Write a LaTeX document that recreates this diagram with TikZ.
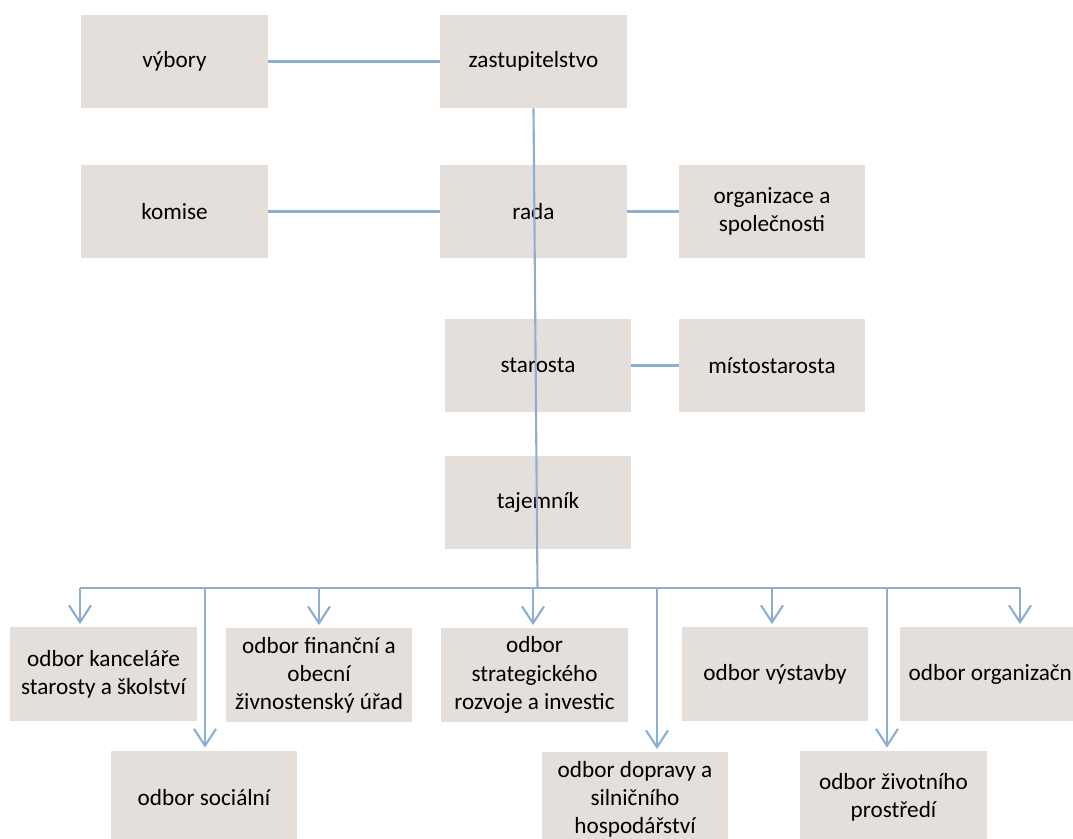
\documentclass[tikz,border=0pt]{standalone}
\usepackage{fontspec}
\setmainfont{Carlito}
\usetikzlibrary{arrows.meta,positioning,calc}
\definecolor{orgbox}{RGB}{229,223,220}
\definecolor{orgline}{RGB}{140,174,210}

\begin{document}
\begin{tikzpicture}[x=0.025cm, y=-0.025cm,
  unit/.style={fill=orgbox, minimum width=4.65cm, minimum height=2.33cm,
    inner sep=2pt, align=center, font=\fontsize{16.5}{20}\selectfont},
  tie/.style={draw=orgline, line width=1.5pt},
  drop/.style={tie, -{Straight Barb[length=0.42cm,width=0.55cm]}}]
  \useasboundingbox (0,0) rectangle (1073,839);
  % council and board
  \node[unit] (vybory) at (174.5,61.5) {výbory};
  \node[unit] (zast) at (533.5,61.5) {zastupitelstvo};
  \node[unit] (komise) at (174.5,211.5) {komise};
  \node[unit] (rada) at (533.5,211.5) {rada};
  \node[unit] (spol) at (772,211.5) {organizace a\\společnosti};
  \node[unit] (starosta) at (538,365.5) {starosta};
  \node[unit] (misto) at (772,365.5) {místostarosta};
  \node[unit] (tajemnik) at (538,502.5) {tajemník};
  % departments
  \node[unit] (kanc) at (103.5,674) {odbor kanceláře\\starosty a školství};
  \node[unit] (fin) at (319,675) {odbor finanční a\\obecní\\živnostenský úřad};
  \node[unit] (strat) at (534.5,675) {odbor\\strategického\\rozvoje a investic};
  \node[unit] (vystavba) at (775,674) {odbor výstavby};
  \node[unit] (organiz) at (993,674) {odbor organizační};
  \node[unit] (soc) at (204,797.5) {odbor sociální};
  \node[unit] (doprava) at (635,799) {odbor dopravy a\\silničního\\hospodářství};
  \node[unit] (zivot) at (893.5,797.5) {odbor životního\\prostředí};
  % connectors
  \draw[tie] (vybory) -- (zast);
  \draw[tie] (komise) -- (rada);
  \draw[tie] (rada) -- (spol);
  \draw[tie] (starosta) -- (misto);
  \coordinate (bus) at (0,588);
  \draw[tie] (zast.south) -- ($(zast.south |- bus)+(4,0)$);
  \draw[tie] ($(kanc.north |- bus)+(-23.5,0)$) -- ($(organiz.north |- bus)+(27,0)$);
  \foreach \n/\dx in {kanc/-23.5, soc/1, fin/0, strat/-1.5, doprava/22,
                      vystavba/-3, zivot/-6.5, organiz/27} {
    \draw[drop] ($(\n.north |- bus)+(\dx,0)$) -- ($(\n.north)+(\dx,-3)$);
  }
\end{tikzpicture}
\end{document}
